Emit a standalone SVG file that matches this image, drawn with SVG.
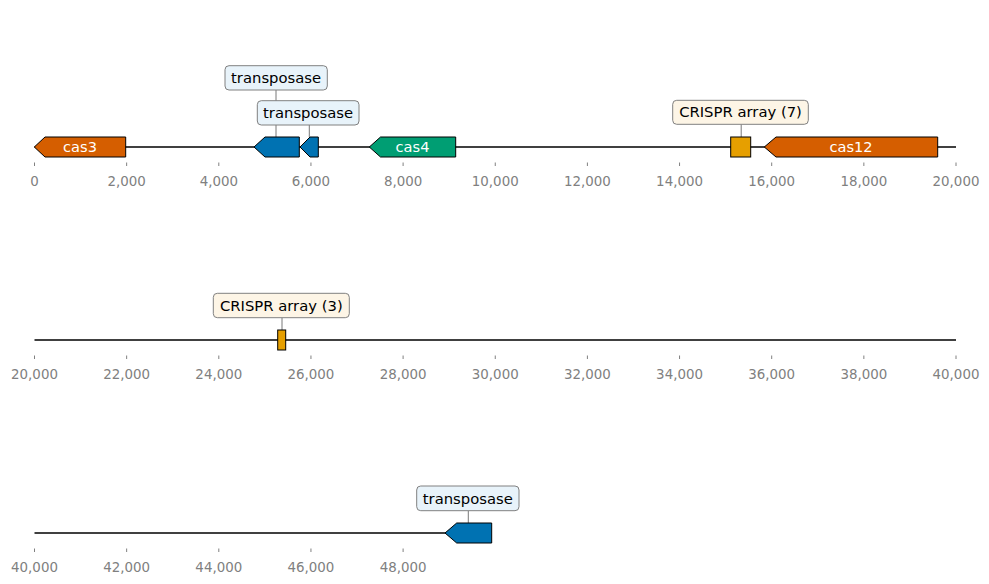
<svg xmlns="http://www.w3.org/2000/svg" width="989" height="584" viewBox="0 0 989 584">
<style>
.bg{fill:#ffffff}
.seq{stroke:#000;stroke-width:1.6;fill:none}
.feat{stroke:#000;stroke-width:1}
.ftxt{font-family:"DejaVu Sans",sans-serif;font-size:14.6px;fill:#ffffff;text-anchor:middle}
.lbox{stroke:#808080;stroke-width:1}
.tbox{fill:#e8f3fa}
.cbox{fill:#fdf5e6}
.ltxt{font-family:"DejaVu Sans",sans-serif;font-size:14.8px;fill:#000;text-anchor:middle}
.lead{stroke:#555;stroke-width:0.8;fill:none}
.tick{stroke:#808080;stroke-width:1}
.ttxt{font-family:"DejaVu Sans",sans-serif;font-size:13.4px;fill:#808080;text-anchor:middle}
.orange{fill:#D55E00}.blue{fill:#0072B2}.green{fill:#009E73}.yellow{fill:#E69F00}
</style>
<rect class="bg" x="0" y="0" width="989" height="584"/>

<g id="axes">
<line class="seq" x1="34.5" y1="147" x2="956" y2="147"/>
<line class="seq" x1="34.5" y1="340" x2="956" y2="340"/>
<line class="seq" x1="34.5" y1="533" x2="491" y2="533"/>
<g id="ticks1">
<path class="tick" d="M34.5 162.5V166M126.65 162.5V166M218.8 162.5V166M310.95 162.5V166M403.1 162.5V166M495.25 162.5V166M587.4 162.5V166M679.55 162.5V166M771.7 162.5V166M863.85 162.5V166M956 162.5V166"/>
<text class="ttxt" x="34.5" y="185.5">0</text>
<text class="ttxt" x="126.65" y="185.5">2,000</text>
<text class="ttxt" x="218.8" y="185.5">4,000</text>
<text class="ttxt" x="310.95" y="185.5">6,000</text>
<text class="ttxt" x="403.1" y="185.5">8,000</text>
<text class="ttxt" x="495.25" y="185.5">10,000</text>
<text class="ttxt" x="587.4" y="185.5">12,000</text>
<text class="ttxt" x="679.55" y="185.5">14,000</text>
<text class="ttxt" x="771.7" y="185.5">16,000</text>
<text class="ttxt" x="863.85" y="185.5">18,000</text>
<text class="ttxt" x="956" y="185.5">20,000</text>
</g>
<g id="ticks2">
<path class="tick" d="M34.5 355.5V359M126.65 355.5V359M218.8 355.5V359M310.95 355.5V359M403.1 355.5V359M495.25 355.5V359M587.4 355.5V359M679.55 355.5V359M771.7 355.5V359M863.85 355.5V359M956 355.5V359"/>
<text class="ttxt" x="34.5" y="378.5">20,000</text>
<text class="ttxt" x="126.65" y="378.5">22,000</text>
<text class="ttxt" x="218.8" y="378.5">24,000</text>
<text class="ttxt" x="310.95" y="378.5">26,000</text>
<text class="ttxt" x="403.1" y="378.5">28,000</text>
<text class="ttxt" x="495.25" y="378.5">30,000</text>
<text class="ttxt" x="587.4" y="378.5">32,000</text>
<text class="ttxt" x="679.55" y="378.5">34,000</text>
<text class="ttxt" x="771.7" y="378.5">36,000</text>
<text class="ttxt" x="863.85" y="378.5">38,000</text>
<text class="ttxt" x="956" y="378.5">40,000</text>
</g>
<g id="ticks3">
<path class="tick" d="M34.5 548.5V552M126.65 548.5V552M218.8 548.5V552M310.95 548.5V552M403.1 548.5V552"/>
<text class="ttxt" x="34.5" y="571.5">40,000</text>
<text class="ttxt" x="126.65" y="571.5">42,000</text>
<text class="ttxt" x="218.8" y="571.5">44,000</text>
<text class="ttxt" x="310.95" y="571.5">46,000</text>
<text class="ttxt" x="403.1" y="571.5">48,000</text>
</g>
</g>

<g id="connectors">
<line class="lead" x1="276" y1="90" x2="276" y2="137"/>
<line class="lead" x1="309.3" y1="125" x2="309.3" y2="137"/>
<line class="lead" x1="741.2" y1="124.3" x2="741.2" y2="137"/>
<line class="lead" x1="282" y1="317.7" x2="282" y2="330"/>
<line class="lead" x1="468.3" y1="510.7" x2="468.3" y2="523"/>
</g>

<g id="cas3">
<path class="feat orange" d="M34.3 147L45 137H125.7V157H45Z"/>
<text class="ftxt" x="80" y="152.2">cas3</text>
</g>
<g id="transposase1">
<path class="feat blue" d="M254 147L265 137H299.3V157H265Z"/>
<rect class="lbox tbox" x="225" y="65.7" width="102.3" height="24.3" rx="4"/>
<text class="ltxt" x="276.1" y="83">transposase</text>
</g>
<g id="transposase2">
<path class="feat blue" d="M300 147L310 137H318.3V157H310Z"/>
<rect class="lbox tbox" x="257.3" y="100.7" width="101.7" height="24.3" rx="4"/>
<text class="ltxt" x="308.1" y="118">transposase</text>
</g>
<g id="cas4">
<path class="feat green" d="M369.3 147L380.5 137H455.7V157H380.5Z"/>
<text class="ftxt" x="412.5" y="152.2">cas4</text>
</g>
<g id="crispr7">
<rect class="feat yellow" x="730.7" y="137" width="20" height="20"/>
<rect class="lbox cbox" x="672.7" y="100.3" width="135.6" height="24" rx="4"/>
<text class="ltxt" x="740.5" y="117.4">CRISPR array (7)</text>
</g>
<g id="cas12">
<path class="feat orange" d="M764.3 147L776 137H937.7V157H776Z"/>
<text class="ftxt" x="851" y="152.2">cas12</text>
</g>
<g id="crispr3">
<rect class="feat yellow" x="277.7" y="330" width="8" height="20"/>
<rect class="lbox cbox" x="213.3" y="293.3" width="136" height="24.4" rx="4"/>
<text class="ltxt" x="281.3" y="310.6">CRISPR array (3)</text>
</g>
<g id="transposase3">
<path class="feat blue" d="M445 533L456.7 523H491.7V543H456.7Z"/>
<rect class="lbox tbox" x="416.7" y="486" width="102.3" height="24.7" rx="4"/>
<text class="ltxt" x="467.8" y="503.5">transposase</text>
</g>
</svg>
